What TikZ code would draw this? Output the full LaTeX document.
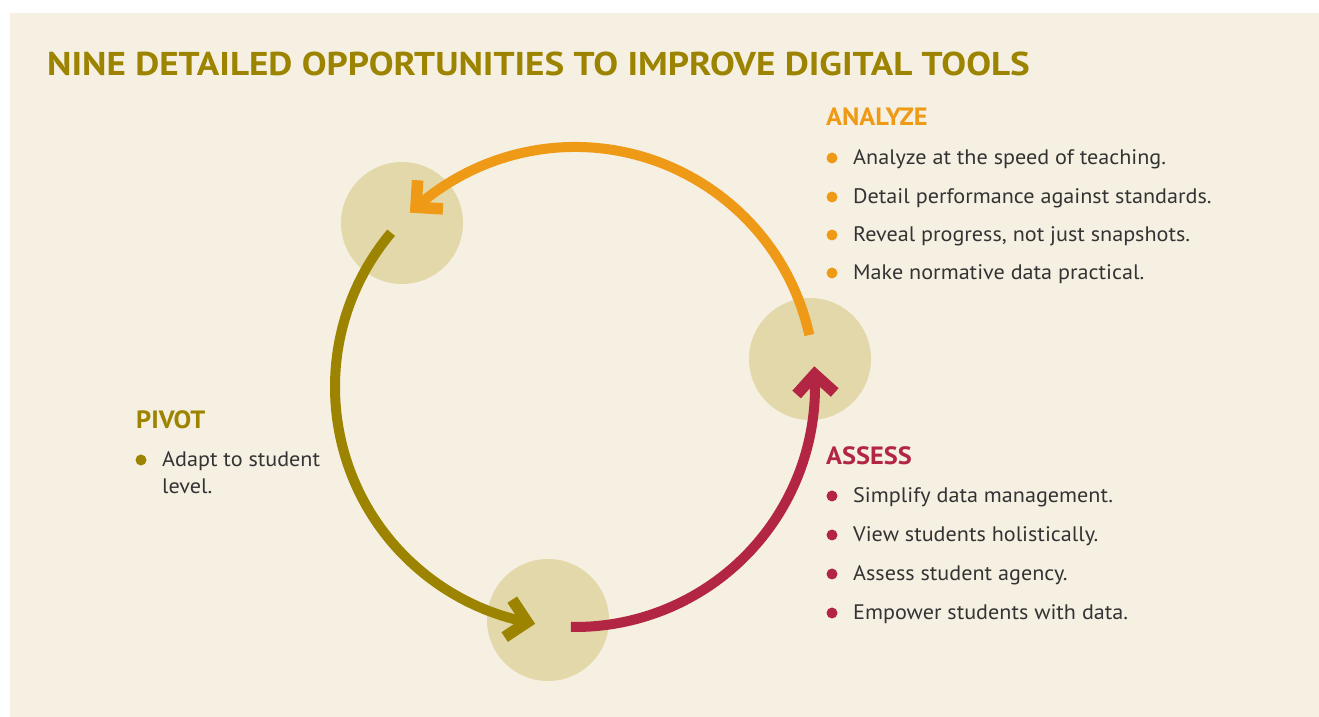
\documentclass[tikz,border=0pt]{standalone}
\usepackage{fontspec}
\setmainfont{PT Sans}
\newfontfamily\titlefont[FakeStretch=1.125]{PT Sans}
\newfontfamily\bodyfont[FakeStretch=1.055]{PT Sans}
\usetikzlibrary{calc}
\definecolor{bgcream}{HTML}{F6F0E3}
\definecolor{disc}{HTML}{E3D8A9}
\definecolor{orng}{HTML}{EF9A17}
\definecolor{olv}{HTML}{9C8300}
\definecolor{crim}{HTML}{B22543}
\definecolor{txt}{HTML}{333333}
\tikzset{
  hub/.style={circle, fill=disc, draw=none, minimum size=122pt, inner sep=0pt},
  cyc/.style={line width=10pt, line cap=butt},
  chev/.style={line width=11.5pt, line cap=butt, line join=miter},
  heading/.style={anchor=base west, inner sep=0pt, font=\bodyfont\fontsize{25}{30}\selectfont\bfseries},
  item/.style={anchor=base west, inner sep=0pt, text=txt, font=\bodyfont\fontsize{21}{27}\selectfont},
  dotmark/.style={circle, inner sep=0pt, minimum size=11pt, draw=none}
}
\begin{document}
\begin{tikzpicture}[x=1pt,y=1pt]
\useasboundingbox (0,0) rectangle (1319,717);
\fill[bgcream] (10,0) rectangle (1319,704);
\node[anchor=base west, inner sep=0pt, text=olv, font=\titlefont\fontsize{33}{40}\selectfont\bfseries] (title) at (47,641) {NINE DETAILED OPPORTUNITIES TO IMPROVE DIGITAL TOOLS};
% hubs
\node[hub] (h1) at (402,494) {};
\node[hub] (h2) at (810,358) {};
\node[hub] (h3) at (548,97) {};
\coordinate (o) at (575,330);
% cycle arcs
\draw[cyc, orng] ([shift={(12.5:240)}]o) arc[start angle=12.5, end angle=131.5, radius=240];
\draw[cyc, olv] ([shift={(140:240)}]o) arc[start angle=140, end angle=258.5, radius=240];
\draw[cyc, crim] ([shift={(269:240)}]o) arc[start angle=269, end angle=363, radius=240];
% chevron arrowheads
\foreach \col/\a/\nm in {orng/131.5/t1, olv/258.5/t2, crim/363/t3} {
  \coordinate (\nm) at ([shift={(\a:240)}]o);
  \draw[chev, \col] ([shift={(\a-45:27)}]\nm) -- (\nm) -- ([shift={(\a-135:27)}]\nm);
}
% ANALYZE
\node[heading, text=orng] (an) at (826,591) {ANALYZE};
\node[item] (a1) at (853,552) {Analyze at the speed of teaching.};
\node[item] (a2) at (853,513) {Detail performance against standards.};
\node[item] (a3) at (853,475) {Reveal progress, not just snapshots.};
\node[item] (a4) at (853,437) {Make normative data practical.};
\foreach \y in {552,513,475,437} \node[dotmark, fill=orng] at (832,\y+7) {};
% ASSESS
\node[heading, text=crim] (as) at (826,252) {ASSESS};
\node[item] (s1) at (853,214) {Simplify data management.};
\node[item] (s2) at (853,175) {View students holistically.};
\node[item] (s3) at (853,136) {Assess student agency.};
\node[item] (s4) at (853,97) {Empower students with data.};
\foreach \y in {214,175,136,97} \node[dotmark, fill=crim] at (832,\y+7) {};
% PIVOT
\node[heading, text=olv] (pv) at (136,288) {PIVOT};
\node[item] (p1) at (162,250) {Adapt to student};
\node[item] (p2) at (162,223) {level.};
\node[dotmark, fill=olv] at (141,257) {};
\end{tikzpicture}
\end{document}
